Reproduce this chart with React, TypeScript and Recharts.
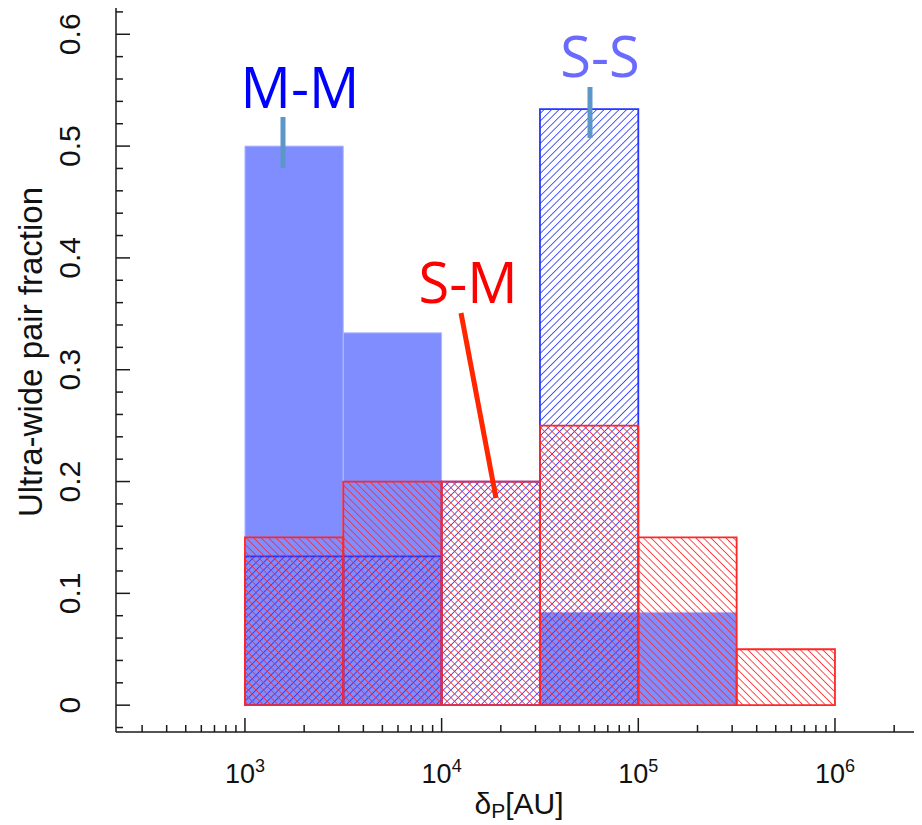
import React from 'react';
import { ComposedChart, XAxis, YAxis, ReferenceArea } from 'recharts';

// bin edges in AU (half-decade bins)
const binEdges = [1000, 3162.3, 10000, 31622.8, 100000, 316227.8, 1000000];
// fraction of ultra-wide pairs per bin
const mmFraction = [0.5, 0.333, 0, 0.083, 0.083, 0];
const ssFraction = [0.133, 0.133, 0.2, 0.533, 0, 0];
const smFraction = [0.15, 0.2, 0.2, 0.25, 0.15, 0.05];

const xMajorTicks = [1000, 10000, 100000, 1000000];
const xMinorSteps = [2, 3, 4, 5, 6, 7, 8, 9];
const xDecades = [100, 1000, 10000, 100000, 1000000];
const yMajorTicks = [0, 0.1, 0.2, 0.3, 0.4, 0.5, 0.6];
const yMinorTicks = [
  -0.02, 0.02, 0.04, 0.06, 0.08, 0.12, 0.14, 0.16, 0.18, 0.22, 0.24, 0.26, 0.28,
  0.32, 0.34, 0.36, 0.38, 0.42, 0.44, 0.46, 0.48, 0.52, 0.54, 0.56, 0.58, 0.62,
];

const X_DOMAIN = [221, 2.77e6];
const Y_DOMAIN = [-0.024, 0.6235];

const xTicks = [
  ...xMajorTicks,
  ...xDecades.flatMap((d) => xMinorSteps.map((m) => d * m)),
]
  .filter((v) => v >= X_DOMAIN[0] && v <= X_DOMAIN[1])
  .sort((a, b) => a - b);
const yTicks = [...yMajorTicks, ...yMinorTicks].sort((a, b) => a - b);

const bins = binEdges.slice(0, -1).map((lo, i) => ({
  lo,
  hi: binEdges[i + 1],
  mm: mmFraction[i],
  ss: ssFraction[i],
  sm: smFraction[i],
}));

const AXIS = '#1a1a1a';
const FONT = '"Liberation Sans", Arial, Helvetica, sans-serif';

const XTick = (props: any) => {
  const { x, y, payload } = props;
  const exp = Math.log10(payload.value);
  const major = Math.abs(exp - Math.round(exp)) < 1e-6;
  return (
    <g>
      <line x1={x} x2={x} y1={y} y2={y - (major ? 14 : 7)} stroke={AXIS} strokeWidth={1.5} />
      {major && (
        <text x={x} y={y + 51} textAnchor="middle" fontFamily={FONT} fontSize={27} fill="#111">
          10
          <tspan dy={-11} fontSize={18}>{Math.round(exp)}</tspan>
        </text>
      )}
    </g>
  );
};

const YTick = (props: any) => {
  const { x, y, payload } = props;
  const v = payload.value;
  const major = Math.abs(v * 10 - Math.round(v * 10)) < 1e-6;
  const tx = x - 36;
  return (
    <g>
      <line x1={x} x2={x + (major ? 14 : 7)} y1={y} y2={y} stroke={AXIS} strokeWidth={1.5} />
      {major && (
        <text
          x={tx}
          y={y}
          textAnchor="middle"
          transform={`rotate(-90, ${tx}, ${y})`}
          fontFamily={FONT}
          fontSize={30}
          fill="#111"
        >
          {v === 0 ? '0' : v.toFixed(1)}
        </text>
      )}
    </g>
  );
};

export default function App() {
  return (
    <div style={{ position: 'relative', width: 914, height: 817 }}>
      <svg
        width={922}
        height={825}
        style={{ position: 'absolute', left: -8, top: -8, pointerEvents: 'none', zIndex: 2 }}
      >
        <defs>
          <pattern id="hatchSS" patternUnits="userSpaceOnUse" width={5.3} height={10} patternTransform="rotate(45)">
            <line x1={0} y1={0} x2={0} y2={10} stroke="#2536ff" strokeWidth={1.6} />
          </pattern>
          <pattern id="hatchSM" patternUnits="userSpaceOnUse" width={5.3} height={10} patternTransform="rotate(-45)">
            <line x1={0} y1={0} x2={0} y2={10} stroke="#ff2626" strokeWidth={1.6} />
          </pattern>
        </defs>
        {/* annotations */}
        <text x={300} y={108} textAnchor="middle" fontFamily='"Open Sans", sans-serif' fontSize={56} fill="#0000ff">
          M-M
        </text>
        <line x1={283} y1={117} x2={283} y2={168} stroke="#5b97c9" strokeWidth={5} />
        <text x={600} y={77} textAnchor="middle" fontFamily='"Open Sans", sans-serif' fontSize={56} fill="#6a6aff">
          S-S
        </text>
        <line x1={590} y1={87} x2={590} y2={138} stroke="#5b97c9" strokeWidth={5} />
        <text x={468} y={303} textAnchor="middle" fontFamily='"Open Sans", sans-serif' fontSize={56} fill="#ff0000">
          S-M
        </text>
        <line x1={461} y1={313} x2={496} y2={498} stroke="#ff2600" strokeWidth={5} />
        {/* axis titles */}
        <text
          x={42}
          y={352}
          textAnchor="middle"
          transform="rotate(-90, 42, 352)"
          fontFamily={FONT}
          fontSize={33}
          fill="#111"
        >
          Ultra-wide pair fraction
        </text>
        <text x={519} y={814} textAnchor="middle" fontFamily={FONT} fontSize={30} fill="#111">
          δ<tspan dy={4} fontSize={21}>P</tspan>
          <tspan dy={-4}>[AU]</tspan>
        </text>
      </svg>
      <ComposedChart width={914} height={817} data={bins} margin={{ top: 0, right: 0, bottom: 0, left: 0 }}>
        <XAxis
          type="number"
          dataKey="lo"
          scale="log"
          domain={X_DOMAIN}
          allowDataOverflow
          ticks={xTicks}
          interval={0}
          tick={<XTick />}
          tickLine={false}
          tickSize={0}
          tickMargin={0}
          height={93}
          axisLine={{ stroke: AXIS, strokeWidth: 1.5 }}
        />
        <YAxis
          type="number"
          domain={Y_DOMAIN}
          allowDataOverflow
          ticks={yTicks}
          interval={0}
          tick={<YTick />}
          tickLine={false}
          tickSize={0}
          tickMargin={0}
          width={108}
          axisLine={{ stroke: AXIS, strokeWidth: 1.5 }}
        />
        {bins
          .filter((b) => b.mm > 0)
          .map((b) => (
            <ReferenceArea
              key={`mm-${b.lo}`}
              x1={b.lo}
              x2={b.hi}
              y1={0}
              y2={b.mm}
              fill="#808dff"
              fillOpacity={1}
              stroke="#b4bcff"
              strokeWidth={1}
            />
          ))}
        {bins
          .filter((b) => b.ss > 0)
          .map((b) => (
            <ReferenceArea
              key={`ss-${b.lo}`}
              x1={b.lo}
              x2={b.hi}
              y1={0}
              y2={b.ss}
              fill="url(#hatchSS)"
              fillOpacity={1}
              stroke="#2536ff"
              strokeWidth={1.8}
            />
          ))}
        {bins
          .filter((b) => b.sm > 0)
          .map((b) => (
            <ReferenceArea
              key={`sm-${b.lo}`}
              x1={b.lo}
              x2={b.hi}
              y1={0}
              y2={b.sm}
              fill="url(#hatchSM)"
              fillOpacity={1}
              stroke="#ff2626"
              strokeWidth={1.8}
            />
          ))}
      </ComposedChart>
    </div>
  );
}
